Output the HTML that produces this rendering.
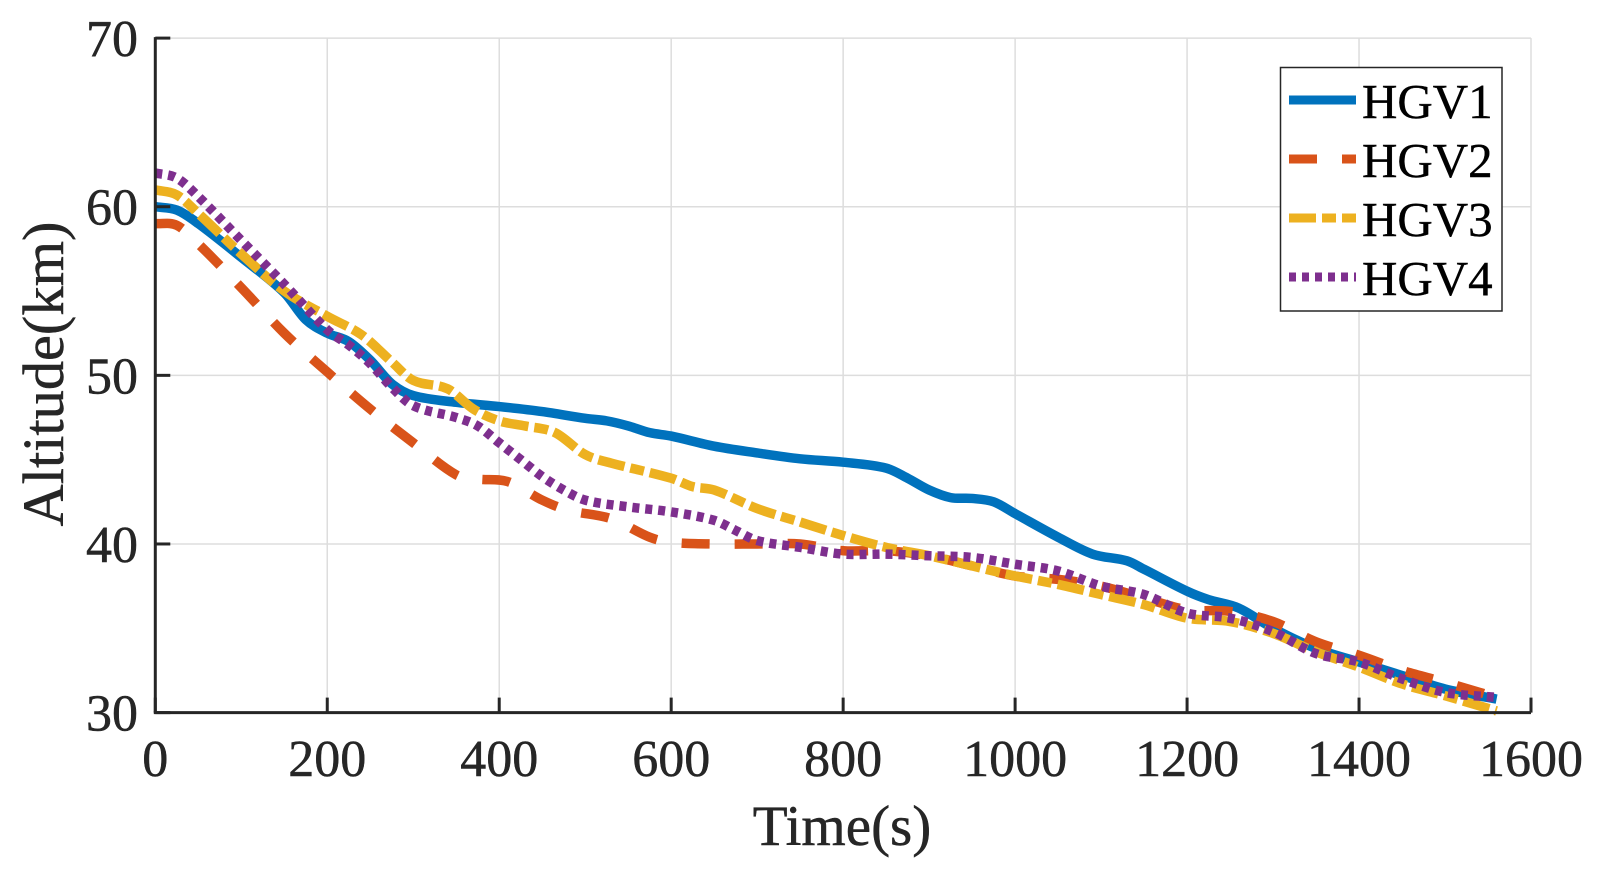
<!DOCTYPE html>
<html lang="en">
<head>
<meta charset="utf-8">
<title>HGV altitude over time</title>
<style>
html,body{margin:0;padding:0;background:#fff;}
svg{display:block;}
text{font-family:"Liberation Serif",serif;}
</style>
</head>
<body>
<svg id="chart" width="1599" height="873" viewBox="0 0 1599 873" xmlns="http://www.w3.org/2000/svg"></svg>
<script>
const xTickLabels = [0, 200, 400, 600, 800, 1000, 1200, 1400, 1600];
const yTickLabels = [30, 40, 50, 60, 70];

const hgv1Times = [0,25,50,100,150,175,200,225,250,275,300,350,400,450,500,525,550,575,600,650,700,750,800,850,875,900,925,950,975,1000,1050,1090,1130,1150,1200,1225,1260,1300,1350,1400,1450,1500,1560];
const hgv1Values = [60,59.8,59,57,54.9,53.3,52.5,52,50.9,49.5,48.8,48.4,48.15,47.85,47.45,47.3,47,46.6,46.4,45.8,45.4,45.05,44.85,44.5,43.9,43.2,42.75,42.7,42.5,41.8,40.4,39.4,39,38.5,37.2,36.7,36.2,35,33.8,33,32.2,31.4,30.8];

const hgv2Times = [0,25,50,100,150,200,250,300,350,375,410,450,480,530,575,600,650,700,750,800,850,900,950,1000,1050,1100,1150,1200,1250,1300,1350,1400,1450,1500,1560];
const hgv2Values = [59,58.9,57.8,55.2,52.5,50.2,48,46,44.1,43.85,43.7,42.6,42,41.5,40.4,40.1,40,40,40,39.6,39.6,39.3,38.7,38.1,37.9,37.5,36.8,36.1,36,35.4,34.2,33.4,32.5,31.8,30.9];

const hgv3Times = [0,25,50,100,150,200,240,275,300,340,370,400,430,465,500,530,600,625,650,700,750,800,850,900,950,1000,1050,1100,1150,1200,1250,1300,1350,1400,1450,1500,1560];
const hgv3Values = [61,60.7,59.6,57.2,55,53.5,52.4,50.8,49.7,49.2,48,47.3,47,46.6,45.3,44.8,43.9,43.4,43.2,42.1,41.3,40.5,39.8,39.3,38.7,38.1,37.6,37,36.4,35.6,35.4,34.7,33.6,32.7,31.7,31,30.1];

const hgv4Times = [0,25,50,100,150,200,225,250,275,300,350,375,400,425,450,475,500,550,600,650,675,700,750,800,850,900,950,1000,1050,1100,1150,1200,1250,1300,1350,1400,1450,1500,1560];
const hgv4Values = [62,61.7,60.6,58,55.4,52.7,51.8,50.7,49.3,48.2,47.5,47,46,45,44,43.2,42.6,42.2,41.9,41.4,40.8,40.2,39.8,39.4,39.4,39.3,39.2,38.8,38.4,37.5,37,35.9,35.6,34.8,33.5,33,32,31.2,30.9];

const seriesNames = ["HGV1", "HGV2", "HGV3", "HGV4"];

const svg = document.getElementById('chart');
const NS = 'http://www.w3.org/2000/svg';
const plotLeft = 155.3, plotRight = 1531, plotTop = 38.1, plotBottom = 712.6;
const xMin = 0, xMax = 1600, yMin = 30, yMax = 70;
const axisColor = '#262626';

function xScale(v) { return plotLeft + (v - xMin) / (xMax - xMin) * (plotRight - plotLeft); }
function yScale(v) { return plotBottom - (v - yMin) / (yMax - yMin) * (plotBottom - plotTop); }

function make(tag, attrs, text) {
  const el = document.createElementNS(NS, tag);
  for (const k in attrs) el.setAttribute(k, attrs[k]);
  if (text !== undefined) el.textContent = text;
  svg.appendChild(el);
  return el;
}

function smoothPath(times, values) {
  const pts = times.map((t, i) => [xScale(t), yScale(values[i])]);
  let d = 'M' + pts[0][0].toFixed(2) + ' ' + pts[0][1].toFixed(2);
  for (let i = 0; i < pts.length - 1; i++) {
    const p0 = pts[Math.max(i - 1, 0)], p1 = pts[i], p2 = pts[i + 1], p3 = pts[Math.min(i + 2, pts.length - 1)];
    const seg = p2[0] - p1[0];
    const m1 = (p2[1] - p0[1]) / (p2[0] - p0[0]);
    const m2 = (p3[1] - p1[1]) / (p3[0] - p1[0]);
    const c1x = p1[0] + seg / 3, c1y = p1[1] + m1 * seg / 3;
    const c2x = p2[0] - seg / 3, c2y = p2[1] - m2 * seg / 3;
    d += 'C' + c1x.toFixed(2) + ' ' + c1y.toFixed(2) + ' ' + c2x.toFixed(2) + ' ' + c2y.toFixed(2) + ' ' + p2[0].toFixed(2) + ' ' + p2[1].toFixed(2);
  }
  return d;
}

// gridlines
xTickLabels.forEach(function (v) {
  if (v === xMin) return;
  const g = make('line', {x1: xScale(v), x2: xScale(v), y1: plotTop, y2: plotBottom, stroke: '#dddddd', 'stroke-width': 1.5});
  
  
});
yTickLabels.forEach(function (v) {
  if (v === yMin) return;
  const g = make('line', {x1: plotLeft, x2: plotRight, y1: yScale(v), y2: yScale(v), stroke: '#dddddd', 'stroke-width': 1.5});
  
  
});

// series
const seriesStyles = [
  {color: '#0072bd', dash: 'none'},
  {color: '#d95319', dash: '28 25'},
  {color: '#edb120', dash: '27 6 14 6'},
  {color: '#7e2f8e', dash: '7 6'}
];
const seriesTimes = [hgv1Times, hgv2Times, hgv3Times, hgv4Times];
const seriesValues = [hgv1Values, hgv2Values, hgv3Values, hgv4Values];
seriesNames.forEach(function (name, i) {
  const line = make('path', {d: smoothPath(seriesTimes[i], seriesValues[i]), fill: 'none', stroke: seriesStyles[i].color, 'stroke-width': 9.5, 'stroke-dasharray': seriesStyles[i].dash});
  
  
});

// axes
const xAxis = make('line', {x1: plotLeft - 1.5, x2: plotRight, y1: plotBottom, y2: plotBottom, stroke: axisColor, 'stroke-width': 3});


const yAxis = make('line', {x1: plotLeft, x2: plotLeft, y1: plotTop - 1, y2: plotBottom, stroke: axisColor, 'stroke-width': 3});



xTickLabels.forEach(function (v) {
  const t = make('line', {x1: xScale(v), x2: xScale(v), y1: plotBottom, y2: plotBottom - 15, stroke: axisColor, 'stroke-width': 3});
  
  
  const l = make('text', {x: xScale(v), y: 776, 'text-anchor': 'middle', 'font-size': 52, fill: axisColor, stroke: axisColor, 'stroke-width': 0.5}, String(v));
  
  
});
yTickLabels.forEach(function (v) {
  const t = make('line', {x1: plotLeft, x2: plotLeft + 15, y1: yScale(v), y2: yScale(v), stroke: axisColor, 'stroke-width': 3});
  
  
  const l = make('text', {x: 138, y: yScale(v) + 18, 'text-anchor': 'end', 'font-size': 52, fill: axisColor, stroke: axisColor, 'stroke-width': 0.5}, String(v));
  
  
});

// axis titles
const xTitle = make('text', {x: 842, y: 845, 'text-anchor': 'middle', 'font-size': 57, fill: axisColor, stroke: axisColor, 'stroke-width': 0.5}, 'Time(s)');


const yTitle = make('text', {x: 0, y: 0, 'text-anchor': 'middle', 'font-size': 58.4, fill: axisColor, stroke: axisColor, 'stroke-width': 0.5, transform: 'translate(63 374) rotate(-90)'}, 'Altitude(km)');



// legend
const legendBox = make('rect', {x: 1280.5, y: 67.5, width: 221.5, height: 243.5, fill: '#fff', stroke: axisColor, 'stroke-width': 1.5});


seriesNames.forEach(function (name, i) {
  const rowY = 100 + i * 59;
  const swatch = make('line', {x1: 1289, x2: 1356, y1: rowY, y2: rowY, stroke: seriesStyles[i].color, 'stroke-width': 9, 'stroke-dasharray': seriesStyles[i].dash});
  
  
  const label = make('text', {x: 1362, y: rowY + 18, 'font-size': 49, fill: '#000', stroke: '#000', 'stroke-width': 0.4}, name);
  
  
});
</script>
</body>
</html>
